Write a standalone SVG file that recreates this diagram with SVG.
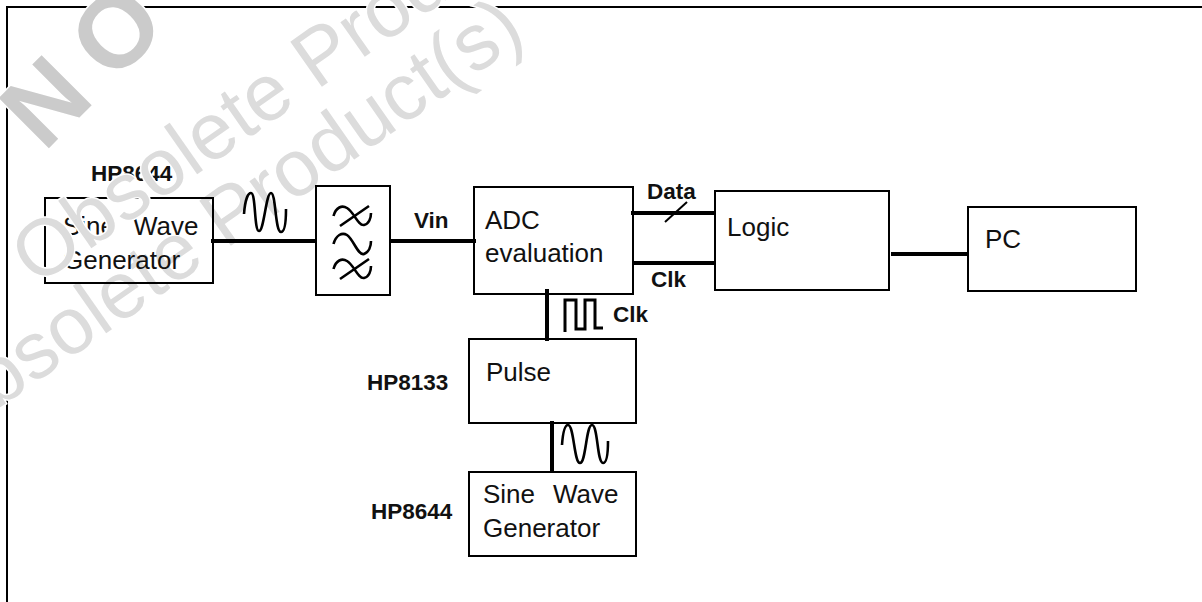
<svg xmlns="http://www.w3.org/2000/svg" width="1202" height="602" viewBox="0 0 1202 602">
<style>
.b{fill:none;stroke:#000;stroke-width:2}
.c{fill:none;stroke:#000;stroke-width:4}
.w{fill:none;stroke:#000;stroke-width:2.6}
text{font-family:"Liberation Sans",Arial,sans-serif;fill:#111}
.t{font-size:26px}
.l{font-size:22.500px;font-weight:bold}
.m{fill:#dcdcdc;stroke:#fff;stroke-width:3;paint-order:stroke;font-size:80px}
.n{fill:#cbcbcb;stroke:#fff;stroke-width:3;paint-order:stroke;font-size:103px;font-weight:bold;letter-spacing:23px}
</style>
<rect width="1202" height="602" fill="#fff"/>
<path class="b" d="M7 602V7H1202"/>
<text class="m" transform="translate(-55 446) rotate(-35)">Obsolete Product(s)</text>
<g id="sine1"><rect class="b" x="45" y="198" width="168" height="85"/><text class="t" x="63" y="235">Sine</text><text class="t" x="133" y="235">Wave</text><text class="t" x="63" y="269">Generator</text></g>
<text class="l" x="91" y="181">HP8644</text>
<text class="n" transform="translate(44 153) rotate(-45)">NO</text>
<text class="m" transform="translate(36 287) rotate(-35)">Obsolete Product(s)</text>
<g id="connectors">
<path class="c" d="M211 241H316"/><path class="c" d="M389 241H476"/>
<path class="c" d="M631 213H714"/><path class="c" d="M633 263H714"/>
<path class="c" d="M891 254H968"/>
<path class="c" d="M547 289V341"/><path class="c" d="M552 421V472"/>
<path class="b" d="M665 222L687 202"/>
</g>
<g id="filter"><rect class="b" x="316" y="186" width="74" height="109"/>
<path class="w" d="M333.500 216C336 207 342 205 347 208C354 212 358 226 364 225C369 224 371 218 371 213M340 226L369 206"/>
<path class="w" d="M333.500 244C336 235 342 232 347 235C354 240 358 256 364 254C369 252 371 246 371 241"/>
<path class="w" d="M333.500 269C336 260 342 258 347 261C354 265 358 279 364 278C369 277 371 271 371 266M340 279L369 259"/>
</g>
<g id="adc"><rect class="b" x="474" y="187" width="159" height="107"/><text class="t" x="485" y="229">ADC</text><text class="t" x="485" y="262">evaluation</text></g>
<g id="logic"><rect class="b" x="715" y="191" width="174" height="99"/><text class="t" x="727" y="236">Logic</text></g>
<g id="pc"><rect class="b" x="968" y="207" width="168" height="84"/><text class="t" x="985" y="248">PC</text></g>
<g id="pulse"><rect class="b" x="469" y="339" width="167" height="84"/><text class="t" x="486" y="381">Pulse</text></g>
<g id="sine2"><rect class="b" x="469" y="472" width="167" height="84"/><text class="t" x="483" y="503">Sine</text><text class="t" x="553" y="503">Wave</text><text class="t" x="483" y="537">Generator</text></g>
<path class="w" d="M244 214C245 200 248 193 251 193C256 193 254 231 259 231C264 231 266 193 271 193C276 193 275 232 281 232C285 232 286 222 286 209"/>
<path class="w" d="M562 445C563 431 565 425 568 425C574 425 574 463 580 463C586 463 586 425 592 425C598 425 597 463 603 463C607 463 608 453 608 441"/>
<path class="w" style="stroke-width:3" d="M565 332V300H576V329H585V300H595V328H603"/>
<text class="l" x="647" y="199">Data</text><text class="l" x="414" y="228">Vin</text>
<text class="l" x="651" y="287">Clk</text><text class="l" x="613" y="322">Clk</text><text class="l" x="367" y="390">HP8133</text><text class="l" x="371" y="519">HP8644</text>
</svg>
